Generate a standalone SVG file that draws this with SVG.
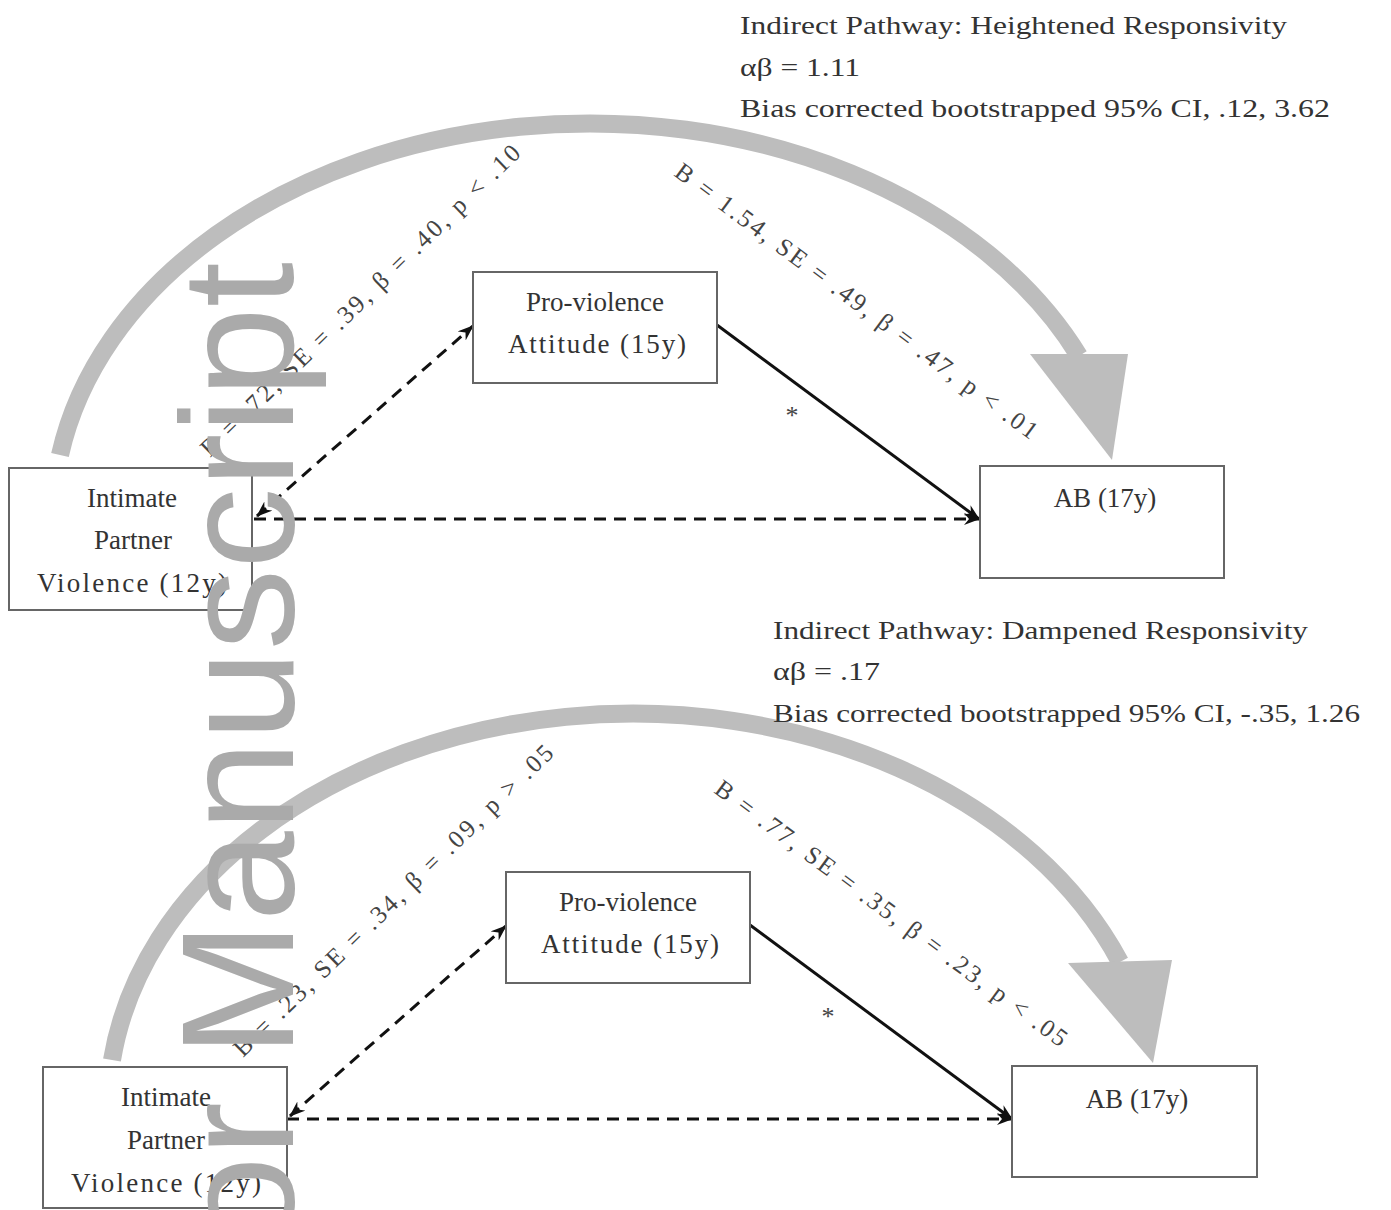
<svg xmlns="http://www.w3.org/2000/svg" width="1391" height="1210" viewBox="0 0 1391 1210">
<defs>
<marker id="ah" viewBox="0 0 16 12" refX="15" refY="6" markerWidth="16" markerHeight="12" orient="auto-start-reverse" markerUnits="userSpaceOnUse">
<path d="M0,0 L16,6 L0,12 L5,6 Z" fill="#111"/>
</marker>
</defs>
<style>
.box{fill:#fff;stroke:#666;stroke-width:2}
.nt{font-family:"Liberation Serif","Times New Roman",serif;font-size:27px;fill:#333;text-anchor:middle}
.lab{font-family:"Liberation Serif","Times New Roman",serif;font-size:25px;fill:#444}
.hd{font-family:"Liberation Serif","Times New Roman",serif;font-size:26px;fill:#333}
.dash{fill:none;stroke:#111;stroke-width:3;stroke-dasharray:12 8}
.solid{fill:none;stroke:#111;stroke-width:3}
.arc{fill:none;stroke:#bdbdbd;stroke-width:18}
.arh{fill:#bdbdbd}
.star{font-family:"Liberation Serif","Times New Roman",serif;font-size:26px;fill:#444;text-anchor:middle}
.wm{font-family:"Liberation Sans",Arial,sans-serif;font-size:160px;fill:#aaaaaa;text-anchor:end}
</style>
<rect width="1391" height="1210" fill="#fff"/>

<g id="arcs">
<path class="arc" d="M60 455 A537 396 0 0 1 1079 356"/>
<polygon class="arh" points="1030,354 1128,354 1112,460"/>
<path class="arc" d="M112 1060 A525 396 0 0 1 1120 962"/>
<polygon class="arh" points="1068,963 1172,960 1153,1063"/>
</g>

<g id="headers">
<text class="hd" x="740" y="34" textLength="547" lengthAdjust="spacingAndGlyphs">Indirect  Pathway:  Heightened  Responsivity</text>
<text class="hd" x="740" y="76" textLength="120" lengthAdjust="spacingAndGlyphs">αβ = 1.11</text>
<text class="hd" x="740" y="117" textLength="590" lengthAdjust="spacingAndGlyphs">Bias  corrected  bootstrapped  95% CI, .12, 3.62</text>
<text class="hd" x="773" y="639" textLength="535" lengthAdjust="spacingAndGlyphs">Indirect  Pathway:  Dampened  Responsivity</text>
<text class="hd" x="773" y="680" textLength="107" lengthAdjust="spacingAndGlyphs">αβ = .17</text>
<text class="hd" x="773" y="722" textLength="587" lengthAdjust="spacingAndGlyphs">Bias  corrected  bootstrapped  95% CI, -.35, 1.26</text>
</g>

<g id="connectors">
<line class="dash" x1="257" y1="516" x2="473" y2="326" marker-start="url(#ah)" marker-end="url(#ah)"/>
<line class="solid" x1="717" y1="325" x2="979" y2="519" marker-end="url(#ah)"/>
<line class="dash" x1="254" y1="519" x2="979" y2="519" marker-end="url(#ah)"/>
<line class="dash" x1="290" y1="1116" x2="506" y2="926" marker-start="url(#ah)" marker-end="url(#ah)"/>
<line class="solid" x1="750" y1="925" x2="1012" y2="1119" marker-end="url(#ah)"/>
<line class="dash" x1="287" y1="1119" x2="1012" y2="1119" marker-end="url(#ah)"/>
<text class="lab" transform="translate(210,458) rotate(-44.2)" textLength="435" lengthAdjust="spacing">B = .72, SE = .39, β = .40, p &lt; .10</text>
<text class="lab" transform="translate(673,175) rotate(36.6)" textLength="445" lengthAdjust="spacing">B = 1.54, SE = .49, β = .47, p &lt; .01</text>
<text class="lab" transform="translate(243,1058) rotate(-44.2)" textLength="435" lengthAdjust="spacing">B = .23, SE = .34, β = .09, p &gt; .05</text>
<text class="lab" transform="translate(713,792) rotate(36.4)" textLength="431" lengthAdjust="spacing">B = .77, SE = .35, β = .23, p &lt; .05</text>
<text class="star" x="792" y="424">*</text>
<text class="star" x="828" y="1025">*</text>
</g>

<g id="ipv1">
<rect class="box" x="9" y="468" width="243" height="142"/>
<text class="nt" x="132" y="507">Intimate</text>
<text class="nt" x="133" y="549">Partner</text>
<text class="nt" x="132" y="592" textLength="190" lengthAdjust="spacing">Violence  (12y)</text>
</g>
<g id="pva1">
<rect class="box" x="473" y="272" width="244" height="111"/>
<text class="nt" x="595" y="311">Pro-violence</text>
<text class="nt" x="597" y="353" textLength="178" lengthAdjust="spacing">Attitude  (15y)</text>
</g>
<g id="ab1">
<rect class="box" x="980" y="466" width="244" height="112"/>
<text class="nt" x="1105" y="507">AB (17y)</text>
</g>

<g id="ipv2">
<rect class="box" x="43" y="1067" width="244" height="141"/>
<text class="nt" x="166" y="1106">Intimate</text>
<text class="nt" x="166" y="1149">Partner</text>
<text class="nt" x="166" y="1192" textLength="190" lengthAdjust="spacing">Violence  (12y)</text>
</g>
<g id="pva2">
<rect class="box" x="506" y="872" width="244" height="111"/>
<text class="nt" x="628" y="911">Pro-violence</text>
<text class="nt" x="630" y="953" textLength="178" lengthAdjust="spacing">Attitude  (15y)</text>
</g>
<g id="ab2">
<rect class="box" x="1012" y="1066" width="245" height="111"/>
<text class="nt" x="1137" y="1108">AB (17y)</text>
</g>

<g id="watermark">
<text class="wm" transform="translate(293,262) rotate(-90)" textLength="1319" lengthAdjust="spacingAndGlyphs">Author Manuscript</text>
</g>
</svg>
